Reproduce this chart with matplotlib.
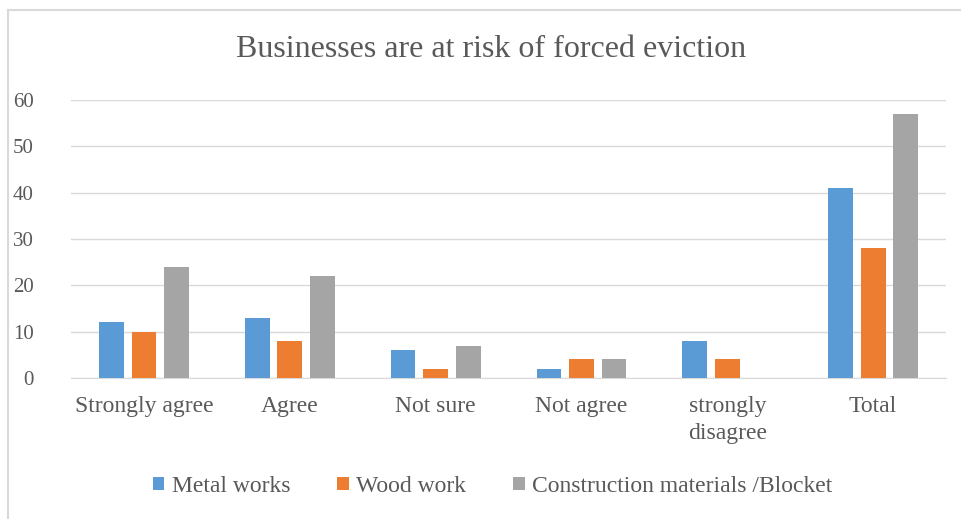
import matplotlib.pyplot as plt
import numpy as np
from matplotlib.lines import Line2D
from matplotlib.patches import Patch

categories = ["Strongly agree", "Agree", "Not sure", "Not agree", "strongly\ndisagree", "Total"]
metal = [12, 13, 6, 2, 8, 41]
wood = [10, 8, 2, 4, 4, 28]
construction = [24, 22, 7, 4, 0, 57]
series_names = ["Metal works", "Wood work", "Construction materials /Blocket"]
colors = ["#5B9BD5", "#ED7D31", "#A5A5A5"]

plt.rcParams['font.family'] = ['Liberation Serif', 'DejaVu Serif']
txt = "#595959"

fig = plt.figure(figsize=(9.62, 5.19), dpi=100)
ax = fig.add_axes([0.0738, 0.2717, 0.9096, 0.5356])

x = np.arange(len(categories))
w = 0.17
pitch = 0.223
for i, vals in enumerate([metal, wood, construction]):
    ax.bar(x + (i - 1) * pitch, vals, width=w, color=colors[i], zorder=3)

ax.set_xlim(-0.5, len(categories) - 0.5)
ax.set_ylim(0, 60)
ax.set_yticks(range(0, 61, 10))
ax.yaxis.grid(True, color="#D9D9D9", linewidth=1, zorder=0)
for s in ["top", "right", "left"]:
    ax.spines[s].set_visible(False)
ax.spines["bottom"].set_color("#D9D9D9")
ax.tick_params(axis="both", length=0, labelcolor=txt)
ax.tick_params(axis="y", pad=27, labelsize=15)
ax.tick_params(axis="x", pad=13, labelsize=17)
ax.set_xticks(x)
ax.set_xticklabels(categories, linespacing=1.4)

fig.text(0.51, 0.905, "Businesses are at risk of forced eviction", ha="center", va="center",
         fontsize=23, color=txt)

handles = [Patch(facecolor=c, edgecolor="none") for c in colors]
fig.legend(handles, series_names, loc="center", bbox_to_anchor=(0.512, 0.063), ncol=3,
           frameon=False, fontsize=17, labelcolor=txt, handlelength=0.5, handleheight=0.5,
           handletextpad=0.3, columnspacing=2.0)

# outer chart frame (left and top edges visible)
fig.add_artist(Line2D([8 / 962, 8 / 962], [0, 1 - 10 / 519], color="#D9D9D9", linewidth=1.5))
fig.add_artist(Line2D([8 / 962, 1], [1 - 10 / 519, 1 - 10 / 519], color="#D9D9D9", linewidth=1.5))

fig.savefig("out.png", dpi=100)
